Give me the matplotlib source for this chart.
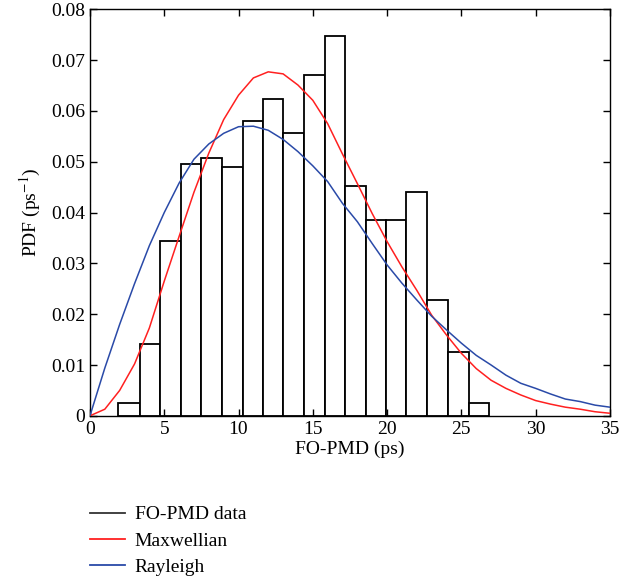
import numpy as np
import matplotlib
matplotlib.use("Agg")
import matplotlib.pyplot as plt
from matplotlib.lines import Line2D

plt.rcParams["font.family"] = ["Liberation Serif", "DejaVu Serif"]
plt.rcParams["mathtext.fontset"] = "stix"
plt.rcParams["font.size"] = 14

# histogram of FO-PMD data (bin edges in ps, PDF height per bin)
bin_edges = [1.91, 3.37, 4.73, 6.11, 7.47, 8.86, 10.28, 11.64, 13.0, 14.4,
             15.8, 17.2, 18.57, 19.93, 21.3, 22.7, 24.1, 25.5, 26.85]
pdf_data = [0.0026, 0.0141, 0.0344, 0.0496, 0.0508, 0.0489, 0.0581, 0.0624,
            0.0557, 0.0671, 0.0747, 0.0452, 0.0386, 0.0386, 0.0440, 0.0227,
            0.0125, 0.0026]

# fitted curves, read at 1 ps steps
x_fit = list(range(0, 36))
maxwellian = [0.0, 0.0013, 0.0050, 0.0102, 0.0173, 0.0265, 0.0353, 0.0440,
              0.0517, 0.0583, 0.0631, 0.0665, 0.0677, 0.0673, 0.0651, 0.0621,
              0.0575, 0.0515, 0.0457, 0.0398, 0.0343, 0.0293, 0.0247, 0.0198,
              0.0159, 0.0123, 0.0093, 0.0070, 0.0054, 0.0041, 0.0030, 0.0023,
              0.0017, 0.0013, 0.0008, 0.0005]
rayleigh = [0.0, 0.0094, 0.0180, 0.0260, 0.0335, 0.0400, 0.0458, 0.0505,
            0.0535, 0.0556, 0.0569, 0.0570, 0.0562, 0.0544, 0.0520, 0.0492,
            0.0461, 0.0418, 0.0382, 0.0339, 0.0297, 0.0261, 0.0228, 0.0196,
            0.0169, 0.0143, 0.0119, 0.0100, 0.0080, 0.0064, 0.0054, 0.0043,
            0.0033, 0.0028, 0.0021, 0.0017]

x_ticks = [0, 5, 10, 15, 20, 25, 30, 35]
y_ticks = [0, 0.01, 0.02, 0.03, 0.04, 0.05, 0.06, 0.07, 0.08]
y_ticklabels = ["0", "0.01", "0.02", "0.03", "0.04", "0.05", "0.06", "0.07", "0.08"]

fig = plt.figure(figsize=(6.38, 5.84), dpi=100)
ax = fig.add_axes([0.141, 0.288, 0.815, 0.696])

edges = np.array(bin_edges)
ax.bar(edges[:-1], pdf_data, width=np.diff(edges), align="edge",
       facecolor="white", edgecolor="black", linewidth=1.3, zorder=1)
ax.plot(x_fit, maxwellian, color="#ff2020", lw=1.1, zorder=3)
ax.plot(x_fit, rayleigh, color="#2a4aa8", lw=1.1, zorder=3)

ax.set_xlim(0, 35)
ax.set_ylim(0, 0.08)
ax.set_xticks(x_ticks)
ax.set_yticks(y_ticks)
ax.set_yticklabels(y_ticklabels)
ax.tick_params(direction="in", top=True, right=True, length=5, width=1)
for s in ax.spines.values():
    s.set_linewidth(1.0)
ax.set_xlabel("FO-PMD (ps)", labelpad=2)
ax.set_ylabel("PDF (ps$^{-1}$)", labelpad=6)

handles = [Line2D([], [], color="#333333", lw=1.3),
           Line2D([], [], color="#ff2020", lw=1.3),
           Line2D([], [], color="#2a4aa8", lw=1.3)]
labels = ["FO-PMD data", "Maxwellian", "Rayleigh"]
fig.legend(handles, labels, loc="upper left", bbox_to_anchor=(0.141, 0.134),
           frameon=False, handlelength=1.8, handletextpad=0.5,
           labelspacing=0.45, borderpad=0, borderaxespad=0)

fig.savefig("out.png", dpi=100)
